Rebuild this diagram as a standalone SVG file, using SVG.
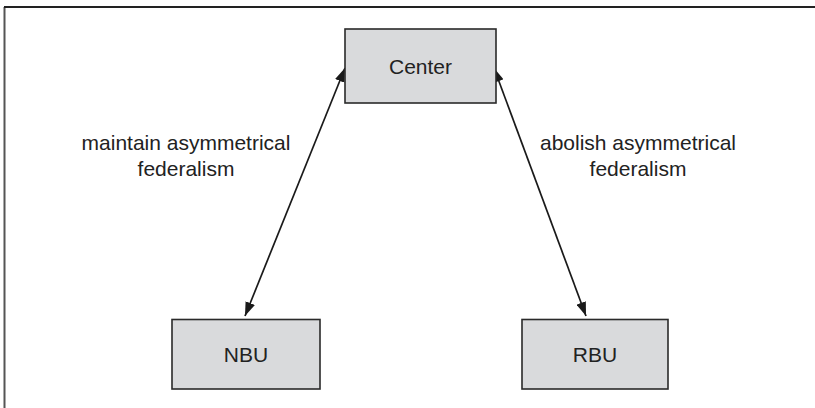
<svg xmlns="http://www.w3.org/2000/svg" width="815" height="408" viewBox="0 0 815 408">
  <style>
    .box { fill: #d9dadc; stroke: #2a2a2a; stroke-width: 1.6; }
    .label { font-family: "Liberation Sans", Arial, sans-serif; font-size: 21px; fill: #222222; text-anchor: middle; }
    .link { stroke: #1a1a1a; stroke-width: 1.7; fill: none; marker-start: url(#head); marker-end: url(#head); }
  </style>
  <defs>
    <marker id="head" viewBox="0 0 14 10" refX="14" refY="5" markerWidth="14" markerHeight="10" markerUnits="userSpaceOnUse" orient="auto-start-reverse">
      <path d="M0,0 L14,5 L0,10 Z" fill="#1a1a1a"/>
    </marker>
  </defs>

  <rect width="815" height="408" fill="#ffffff"/>

  <!-- outer frame (left and top rules) -->
  <g id="frame">
    <line x1="4.5" y1="7" x2="4.5" y2="408" stroke="#555555" stroke-width="2"/>
    <line x1="4" y1="7" x2="815" y2="7" stroke="#222222" stroke-width="2"/>
  </g>

  <g id="connectors">
    <line class="link" x1="245" y1="316" x2="345" y2="68"/>
    <line class="link" x1="586" y1="316" x2="494" y2="68"/>
    <text class="label" x="186" y="150">maintain asymmetrical</text>
    <text class="label" x="186" y="176">federalism</text>
    <text class="label" x="638" y="150">abolish asymmetrical</text>
    <text class="label" x="638" y="176">federalism</text>
  </g>

  <g id="center">
    <rect class="box" x="345" y="29" width="151" height="74"/>
    <text class="label" x="420.5" y="74">Center</text>
  </g>

  <g id="nbu">
    <rect class="box" x="172" y="319.5" width="148" height="69.5"/>
    <text class="label" x="246" y="362">NBU</text>
  </g>

  <g id="rbu">
    <rect class="box" x="522" y="319.5" width="146" height="69.5"/>
    <text class="label" x="595" y="362">RBU</text>
  </g>
</svg>
